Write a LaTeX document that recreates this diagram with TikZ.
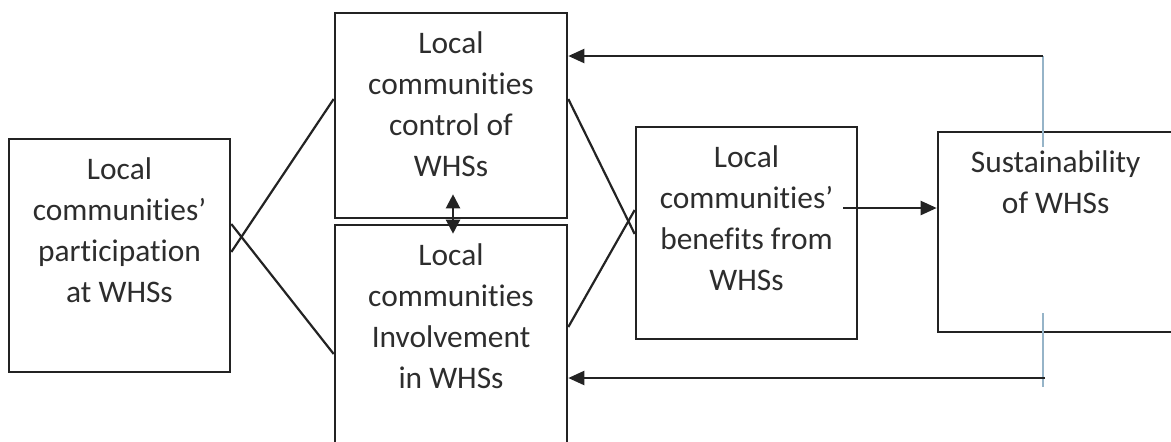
\documentclass[tikz,border=0pt]{standalone}
\usepackage{fontspec}
\setmainfont{Carlito}[Ligatures={TeX,NoCommon}]
\usetikzlibrary{positioning,arrows.meta}
\definecolor{mygray}{RGB}{35,35,35}
\definecolor{mytext}{RGB}{45,45,45}
\definecolor{myblue}{RGB}{150,180,200}

\begin{document}
\begin{tikzpicture}[x=0.5pt,y=-0.5pt,
  box/.style={draw=mygray,line width=1.3pt,rectangle,inner sep=0pt},
  txt/.style={align=center,inner sep=0pt,anchor=north,text=mytext,
    font=\fontsize{15.7}{20.5}\selectfont},
  link/.style={draw=mygray,line width=1.1pt},
  arr/.style={link,-{Triangle[length=8pt,width=7pt]}},
  dblarr/.style={link,{Triangle[length=7pt,width=7pt]}-{Triangle[length=7pt,width=7pt]}},
  guide/.style={draw=myblue,line width=0.6pt}
]
\useasboundingbox (0,0) rectangle (1171,441);

% the boxes
\node[box,minimum width=110.5pt,minimum height=116.5pt] (part) at (119.5,255.5) {};
\node[box,minimum width=116pt,minimum height=102.5pt] (control) at (451,115.5) {};
\node[box,minimum width=116pt,minimum height=122.5pt] (invol) at (451,347.5) {};
\node[box,minimum width=110.5pt,minimum height=106pt] (benef) at (746.5,233) {};
\node[box,minimum width=123.5pt,minimum height=100pt] (sust) at (1061.5,232) {};

% the texts
\node[txt] (partT) at ([yshift=-10pt]part.north) {Local\\communities'\\participation\\at WHSs};
\node[txt] (controlT) at ([yshift=-10pt]control.north) {Local\\communities\\control of\\WHSs};
\node[txt] (involT) at ([yshift=-10pt]invol.north) {Local\\communities\\Involvement\\in WHSs};
\node[txt] (benefT) at ([yshift=-10pt]benef.north) {Local\\communities'\\benefits from\\WHSs};
\node[txt] (sustT) at ([xshift=59.5pt,yshift=-10pt]sust.north west) {Sustainability\\of WHSs};

% the crossing links
\draw[link] (part.east |- 0,252) -- (control.west |- 0,99);
\draw[link] (part.east |- 0,224) -- (invol.west |- 0,354);
\draw[link] (control.east |- 0,99) -- (benef.west |- 0,234);
\draw[link] (invol.east |- 0,327) -- (benef.west |- 0,210);

% the arrows
\draw[dblarr] ([xshift=1pt,yshift=12.5pt]control.south) -- ([xshift=1pt,yshift=-5pt]invol.north);
\draw[arr] ([xshift=-7.5pt]benef.east |- 0,208) -- (sust.west |- 0,208);

% the feedback lines
\coordinate (topR) at (1043,56);
\coordinate (botR) at (1045,378);
\draw[guide] (topR) -- (1043,147);
\draw[guide] (1043,313) -- (1043,387);
\draw[arr] (topR) -- (control.east |- topR);
\draw[arr] (botR) -- (invol.east |- botR);
\end{tikzpicture}
\end{document}
